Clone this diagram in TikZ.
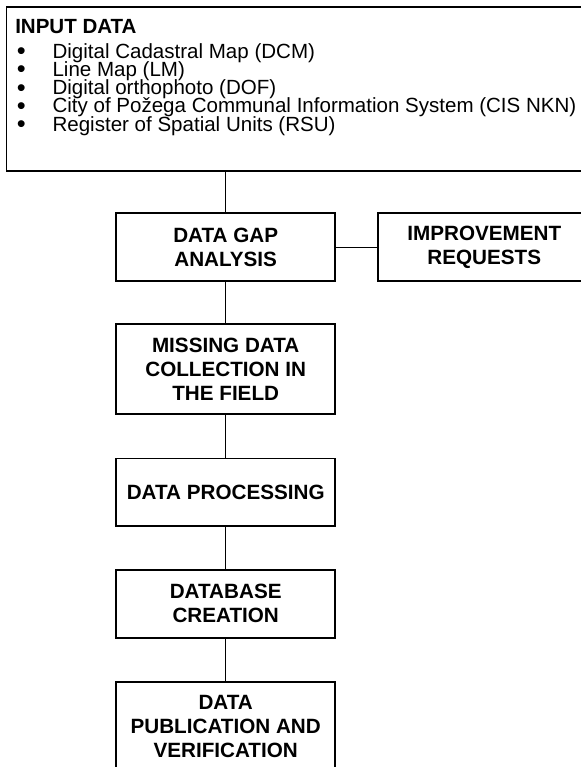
\documentclass[tikz,border=0pt]{standalone}
\usepackage{fontspec}
\setmainfont{Liberation Sans}
\usetikzlibrary{positioning}
\newcommand{\listbullet}{\llap{\raisebox{-1pt}{\fontsize{19}{18}\selectfont\textbullet}\hspace{20.1pt}}}

\begin{document}
\begin{tikzpicture}[x=0.75pt, y=-0.75pt,
        stepbox/.style={draw, rectangle, line width=1.3pt, align=center, inner sep=0pt,
            minimum width=164.25pt, minimum height=50.8pt,
            font=\bfseries\fontsize{15.5}{18}\selectfont},
        tallbox/.style={stepbox, minimum height=67.5pt},
        listitem/.style={anchor=base west, inner sep=0pt, font=\fontsize{15.4}{18}\selectfont},
        link/.style={line width=0.9pt}]
            \useasboundingbox (0,0) rectangle (581,767);

            \node[draw, rectangle, line width=1.3pt, anchor=north west, minimum width=438.4pt, minimum height=122.6pt] (input) at (5.5,6.5) {};
            \node[listitem, font=\bfseries\fontsize{15.4}{18}\selectfont] (inputtitle) at (15,33.3) {INPUT DATA};
            \node[listitem] (dcm) at (52.3,58.3) {\listbullet Digital Cadastral Map (DCM)};
            \node[listitem] (lm) at (52.3,76.6) {\listbullet Line Map (LM)};
            \node[listitem] (dof) at (52.3,94.8) {\listbullet Digital orthophoto (DOF)};
            \node[listitem] (cis) at (52.3,112.8) {\listbullet City of Požega Communal Information System (CIS NKN)};
            \node[listitem] (rsu) at (52.3,131) {\listbullet Register of Spatial Units (RSU)};

            \node[stepbox] (gap) at (225.7,247.2) {DATA GAP\\ANALYSIS};
            \node[stepbox, minimum width=159.5pt] (improve) at (484.3,247.2) {IMPROVEMENT\\REQUESTS};
            \node[tallbox] (missing) at (225.7,369.3) {MISSING DATA\\COLLECTION IN\\THE FIELD};
            \node[stepbox] (processing) at (225.7,492.3) {DATA PROCESSING};
            \node[stepbox] (database) at (225.7,603.8) {DATABASE\\CREATION};
            \node[tallbox] (publication) at (225.7,726.7) {DATA\\PUBLICATION AND\\VERIFICATION};

            \draw[link] (gap.north |- input.south) -- (gap.north);
            \draw[link] (gap.east) -- (improve.west);
            \draw[link] (gap.south) -- (missing.north);
            \draw[link] (missing.south) -- (processing.north);
            \draw[link] (processing.south) -- (database.north);
            \draw[link] (database.south) -- (publication.north);
        \end{tikzpicture}
\end{document}
